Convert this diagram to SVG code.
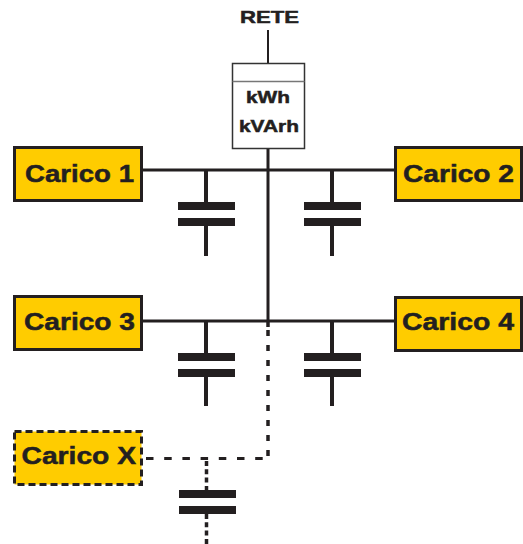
<svg xmlns="http://www.w3.org/2000/svg" width="523" height="544" viewBox="0 0 523 544">
<style>
.load{fill:#ffcc00;stroke:#231f20;stroke-width:3}
.dash{stroke-dasharray:7 4}
.lbl{font-family:"Liberation Sans",Arial,sans-serif;font-weight:700;fill:#231f20;stroke:#231f20;stroke-width:.5}
.big{font-size:24px}
.small{font-size:17px}
.t{fill:none;stroke:#231f20;stroke-width:2}
.w{fill:none;stroke:#231f20;stroke-width:3}
.s{fill:none;stroke:#231f20;stroke-width:4}
.dv{fill:none;stroke:#231f20;stroke-width:3.500;stroke-dasharray:6 9}
.dh{fill:none;stroke:#231f20;stroke-width:3;stroke-dasharray:7.500 10.700}
.d2{fill:none;stroke:#231f20;stroke-width:3.500;stroke-dasharray:5 3.300}
.p{fill:#231f20}
</style>
<rect width="523" height="544" fill="#fff"/>
<g id="connectors">
<path class="t" d="M268 30V63"/>
<path class="w" d="M268 149V321"/>
<path class="w" d="M141 170H395"/>
<path class="w" d="M141 321H395"/>
<path class="s" d="M206 170V202M206 226V256"/>
<path class="s" d="M332 170V202M332 226V256"/>
<path class="s" d="M206 321V353M206 377V406"/>
<path class="s" d="M332 321V353M332 377V406"/>
<path class="dv" d="M268 322V327"/>
<path class="dv" d="M268 330V457"/>
<path class="dh" d="M146 458.500H264"/>
<path class="d2" d="M206.500 461V490M206.500 514V544"/>
</g>
<g id="cap1"><rect class="p" x="178" y="202" width="57" height="8"/><rect class="p" x="178" y="218" width="57" height="8"/></g>
<g id="cap2"><rect class="p" x="304" y="202" width="57" height="8"/><rect class="p" x="304" y="218" width="57" height="8"/></g>
<g id="cap3"><rect class="p" x="178" y="353" width="57" height="8"/><rect class="p" x="178" y="369" width="57" height="8"/></g>
<g id="cap4"><rect class="p" x="304" y="353" width="57" height="8"/><rect class="p" x="304" y="369" width="57" height="8"/></g>
<g id="capX"><rect class="p" x="179" y="490" width="57" height="8"/><rect class="p" x="179" y="506" width="57" height="8"/></g>
<g id="rete"><text class="lbl small" x="240" y="23" textLength="59" lengthAdjust="spacingAndGlyphs">RETE</text></g>
<g id="meter">
<rect x="232.500" y="63.500" width="72" height="85" fill="#fff" stroke="#333" stroke-width="1.500"/>
<path d="M232.500 81.500H304.500" stroke="#777" stroke-width="1.500"/>
<text class="lbl small" x="246" y="103" textLength="44" lengthAdjust="spacingAndGlyphs">kWh</text>
<text class="lbl small" x="239" y="132" textLength="60" lengthAdjust="spacingAndGlyphs">kVArh</text>
</g>
<g id="carico1"><rect class="load" x="14.500" y="147.500" width="127" height="53"/><text class="lbl big" x="25" y="182" textLength="109" lengthAdjust="spacingAndGlyphs">Carico 1</text></g>
<g id="carico2"><rect class="load" x="395.500" y="147.500" width="126" height="53"/><text class="lbl big" x="403" y="182" textLength="111" lengthAdjust="spacingAndGlyphs">Carico 2</text></g>
<g id="carico3"><rect class="load" x="14.500" y="296.500" width="127" height="53"/><text class="lbl big" x="24" y="330" textLength="111" lengthAdjust="spacingAndGlyphs">Carico 3</text></g>
<g id="carico4"><rect class="load" x="395.500" y="297.500" width="126" height="53"/><text class="lbl big" x="402" y="330" textLength="112" lengthAdjust="spacingAndGlyphs">Carico 4</text></g>
<g id="caricoX"><rect class="load dash" x="14.500" y="431.500" width="127" height="53"/><text class="lbl big" x="21.500" y="464" textLength="114.500" lengthAdjust="spacingAndGlyphs">Carico X</text></g>
</svg>
